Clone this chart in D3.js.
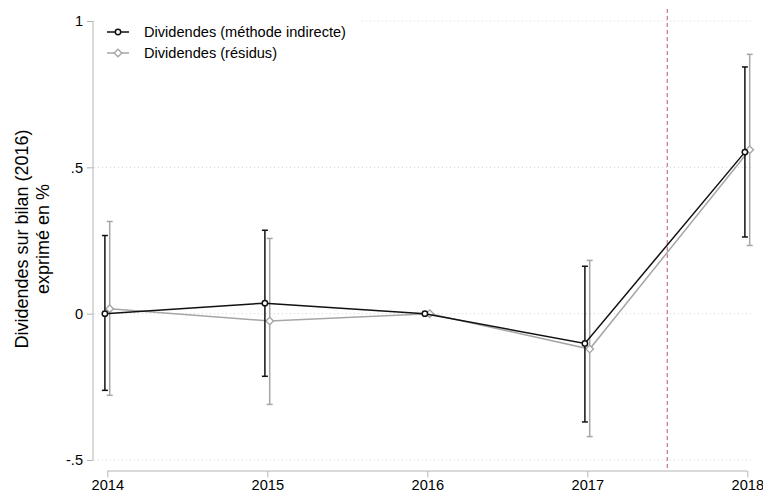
<!DOCTYPE html>
<html><head><meta charset="utf-8">
<script src="https://cdn.jsdelivr.net/npm/d3@7/dist/d3.min.js"></script>
<style>body{margin:0;background:#fff}svg{display:block;font-family:"Liberation Sans",Arial,sans-serif}</style>
</head><body>
<svg id="c" width="763" height="493"></svg>
<script>
const years = [2014, 2015, 2016, 2017, 2018];
const indirect = [0, 0.036, 0, -0.102, 0.552];
const indirectLo = [-0.262, -0.214, null, -0.37, 0.262];
const indirectHi = [0.267, 0.285, null, 0.162, 0.843];
const residus = [0.017, -0.025, 0, -0.121, 0.56];
const residusLo = [-0.279, -0.31, null, -0.42, 0.233];
const residusHi = [0.315, 0.257, null, 0.182, 0.886];
const yTicks = [-0.5, 0, 0.5, 1];
const yTickLabels = ["-.5", "0", ".5", "1"];
const seriesNames = ["Dividendes (méthode indirecte)", "Dividendes (résidus)"];
const eventX = 2017.5;

const svg = d3.select("#c");
const x = d3.scaleLinear().domain([2014, 2018]).range([107.3, 747.3]);
const y = d3.scaleLinear().domain([-0.5, 1]).range([460, 21]);
const axisColor = "#b4b4b4";
const fs = 14.6;

// gridlines
svg.append("g").selectAll("line").data(yTicks).join("line")
  .attr("x1", 94).attr("x2", 752)
  .attr("y1", d => y(d)).attr("y2", d => y(d))
  .attr("stroke", "#d2d2d2").attr("stroke-width", 1)
  .attr("stroke-dasharray", "1,3");

// y axis
const yAxis = svg.append("g").attr("transform", "translate(93,0)")
  .call(d3.axisLeft(y).tickValues(yTicks).tickSize(6).tickPadding(4)
    .tickFormat(d => yTickLabels[yTicks.indexOf(d)]));
yAxis.select(".domain").attr("stroke", axisColor).attr("d", `M0,${y(1)}V${y(-0.5)}`);
yAxis.selectAll(".tick line").attr("stroke", axisColor);
yAxis.selectAll("text").attr("font-size", fs).attr("fill", "#000").attr("font-family", "Liberation Sans, Arial");

// x axis
const xAxis = svg.append("g").attr("transform", "translate(0,471)")
  .call(d3.axisBottom(x).tickValues(years).tickSize(6.5).tickPadding(2).tickFormat(d3.format("d")));
xAxis.select(".domain").attr("stroke", axisColor).attr("d", `M${x(2014)},0H${x(2018)}`);
xAxis.selectAll(".tick line").attr("stroke", axisColor);
xAxis.selectAll("text").attr("font-size", fs).attr("fill", "#000").attr("font-family", "Liberation Sans, Arial");

// y label
svg.append("text").attr("transform", "translate(28,239) rotate(-90)")
  .attr("text-anchor", "middle").attr("font-size", 18).text("Dividendes sur bilan (2016)");
svg.append("text").attr("transform", "translate(49,239) rotate(-90)")
  .attr("text-anchor", "middle").attr("font-size", 18).text("exprimé en %");

// event line
svg.append("line").attr("x1", x(eventX)).attr("x2", x(eventX))
  .attr("y1", 9).attr("y2", 471)
  .attr("stroke", "#c8709a").attr("stroke-width", 1.2).attr("stroke-dasharray", "4,3");

const series = [
  {vals: indirect, lo: indirectLo, hi: indirectHi, color: "#111", off: -2.4, shape: "circle"},
  {vals: residus, lo: residusLo, hi: residusHi, color: "#a6a6a6", off: 2.4, shape: "diamond"}
];

function drawMarker(g, cx, cy, s) {
  if (s.shape === "circle") {
    g.append("circle").attr("cx", cx).attr("cy", cy).attr("r", 2.7)
      .attr("fill", "#fff").attr("stroke", s.color).attr("stroke-width", 1.5);
  } else {
    const r = 3.8;
    g.append("path").attr("d", `M${cx},${cy - r}L${cx + r},${cy}L${cx},${cy + r}L${cx - r},${cy}Z`)
      .attr("fill", "#fff").attr("stroke", s.color).attr("stroke-width", 1.4);
  }
}

// draw gray first then black
[series[1], series[0]].forEach(s => {
  const g = svg.append("g");
  years.forEach((yr, i) => {
    if (s.lo[i] == null) return;
    const cx = x(yr) + s.off;
    g.append("line").attr("x1", cx).attr("x2", cx).attr("y1", y(s.lo[i])).attr("y2", y(s.hi[i]))
      .attr("stroke", s.color).attr("stroke-width", 1.5);
    [s.lo[i], s.hi[i]].forEach(v => {
      g.append("line").attr("x1", cx - 3).attr("x2", cx + 3).attr("y1", y(v)).attr("y2", y(v))
        .attr("stroke", s.color).attr("stroke-width", 1.5);
    });
  });
  const line = d3.line().x((d, i) => x(years[i]) + s.off).y(d => y(d));
  g.append("path").attr("d", line(s.vals)).attr("fill", "none")
    .attr("stroke", s.color).attr("stroke-width", 1.5);
  years.forEach((yr, i) => drawMarker(g, x(yr) + s.off, y(s.vals[i]), s));
});

// legend
const leg = svg.append("g");
leg.append("rect").attr("x", 97).attr("y", 14).attr("width", 265).attr("height", 54).attr("fill", "#fff");
series.forEach((s, i) => {
  const ly = 32 + i * 21;
  leg.append("line").attr("x1", 107).attr("x2", 129).attr("y1", ly).attr("y2", ly)
    .attr("stroke", s.color).attr("stroke-width", 1.5);
  drawMarker(leg, 118, ly, s);
  leg.append("text").attr("x", 144).attr("y", ly + 5).attr("font-size", fs).text(seriesNames[i]);
});
</script>
</body></html>
